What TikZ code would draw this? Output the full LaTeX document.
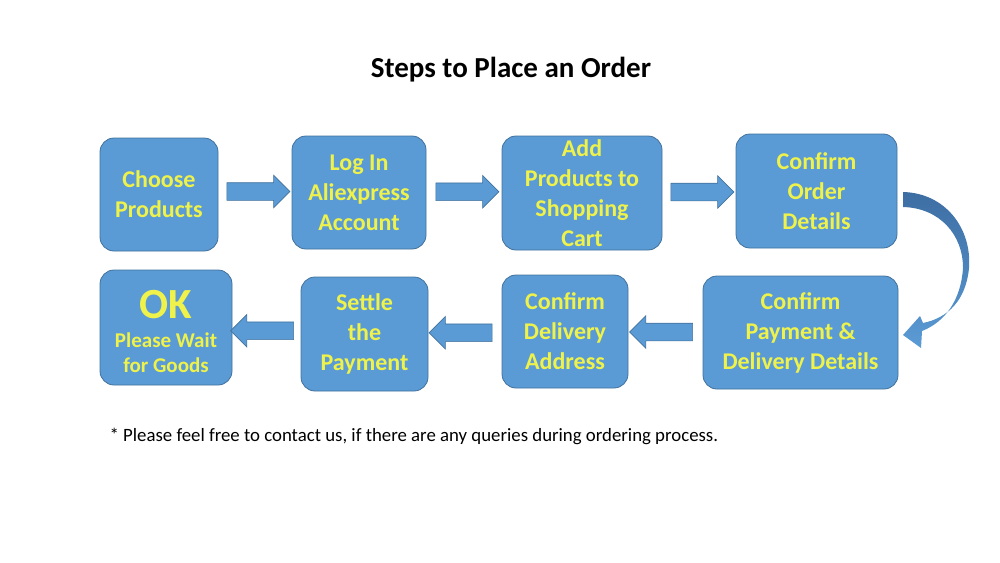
\documentclass[tikz,border=0pt]{standalone}
\usepackage{fontspec}
\setmainfont{Carlito}
\usetikzlibrary{shapes.arrows,calc}
\definecolor{boxfill}{HTML}{5B9BD5}
\definecolor{boxline}{HTML}{41719C}
\definecolor{txtyellow}{HTML}{EEF24A}
\definecolor{curvetop}{HTML}{3D6EA3}
\begin{document}
\begin{tikzpicture}[x=1pt,y=-1pt,
  stepbox/.style={draw=boxline, line width=0.8pt, fill=boxfill, rounded corners=14pt,
    text=txtyellow, font=\fontsize{24}{30}\selectfont\bfseries, align=center, inner sep=0pt},
  boxtext/.style={text=txtyellow, align=center, inner sep=0pt},
  barrow/.style={single arrow, draw=boxline, line width=0.6pt, fill=boxfill, inner xsep=0pt, inner ysep=8.5pt,
    minimum height=63pt, single arrow head extend=7.5pt, single arrow tip angle=90},
  larrow/.style={barrow, shape border rotate=180}]
\path[use as bounding box] (0,0) rectangle (1000,562);

\node[font=\fontsize{29}{32}\selectfont\bfseries] (title) at (511,70) {Steps to Place an Order};

\node[stepbox, minimum width=118pt, minimum height=113pt] (b1) at (159,194.5) {Choose\\Products};
\node[stepbox, minimum width=134pt, minimum height=113pt] (b2) at (359,192.5) {Log In\\Aliexpress\\Account};
\node[stepbox, minimum width=160pt, minimum height=114pt] (b3) at (582,193) {Add\\Products to\\Shopping\\Cart};
\node[stepbox, minimum width=161pt, minimum height=114pt] (b4) at (816.5,191) {Confirm\\Order\\Details};
\node[stepbox, minimum width=195pt, minimum height=113pt] (b5) at (800.5,332.5) {Confirm\\Payment \&\\Delivery Details};
\node[stepbox, minimum width=126pt, minimum height=113pt] (b6) at (565,331.5) {Confirm\\Delivery\\Address};
\node[stepbox, minimum width=127pt, minimum height=114pt] (b7) at (364.5,334) {Settle\\the\\Payment};
\node[stepbox, minimum width=132pt, minimum height=115pt] (b8) at (166,327.5) {};
\node[boxtext, font=\fontsize{21}{25}\selectfont\bfseries] (b8text) at (166,331.5)
  {{\fontsize{43}{43}\selectfont OK}\\[4.5pt]Please Wait\\for Goods};

\node[barrow] (a12) at ($(b1.east)!0.5!(b2.west)+(-1,-2)$) {};
\node[barrow] (a23) at ($(b2.east)!0.5!(b3.west)+(-1,-1)$) {};
\node[barrow] (a34) at ($(b3.east)!0.5!(b4.west)+(-1,0)$) {};
\node[larrow] (a56) at ($(b6.east)!0.5!(b5.west)$) {};
\node[larrow] (a67) at ($(b7.east)!0.5!(b6.west)$) {};
\node[larrow] (a78) at ($(b8.east)!0.5!(b7.west)+(0,0)$) {};

\shade[top color=curvetop, bottom color=boxfill, draw=none]
  (903,192) .. controls (945,193) and (972,228) .. (969,268)
  .. controls (966,300) and (948,318) .. (923,323)
  -- (920,316) -- (903,335) -- (921,348) -- (922,331)
  .. controls (945,322) and (961,300) .. (963,268)
  .. controls (963,235) and (940,208) .. (903,207) -- cycle;

\node[anchor=west, font=\fontsize{18.8}{22}\selectfont] (note) at (106,436)
  {* Please feel free to contact us, if there are any queries during ordering process.};
\end{tikzpicture}
\end{document}
